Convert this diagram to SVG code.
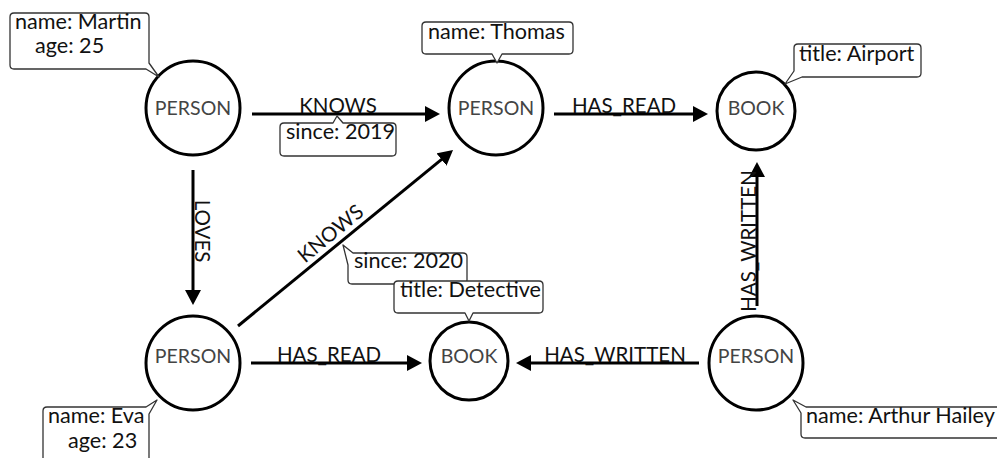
<svg xmlns="http://www.w3.org/2000/svg" width="997" height="458" viewBox="0 0 997 458">
<style>
.node circle{fill:#fff;stroke:#000;stroke-width:3}
.nl{font-family:Lato,"Liberation Sans",sans-serif;font-size:19.5px;fill:#444;text-anchor:middle;dominant-baseline:central}
.box{fill:#fff;stroke:#333;stroke-width:1.3;stroke-linejoin:round}
.pt{font-family:Lato,"Liberation Sans",sans-serif;font-size:21.6px;fill:#111}
.edge{stroke:#000;stroke-width:3;fill:none;marker-end:url(#arr)}
.el{font-family:Lato,"Liberation Sans",sans-serif;font-size:20.5px;fill:#111;text-anchor:middle}
</style>
<defs>
<marker id="arr" markerUnits="userSpaceOnUse" markerWidth="16" markerHeight="16" refX="5" refY="8" orient="auto">
<path d="M0,0 L15,8 L0,16 Z" fill="#000"/>
</marker>
</defs>
<rect width="997" height="458" fill="#fff"/>
<g id="connectors">
<g id="e-martin-thomas"><line class="edge" x1="252" y1="114" x2="430" y2="114"/><text class="el" x="338" y="112.5">KNOWS</text></g>
<g id="e-thomas-airport"><line class="edge" x1="554" y1="114" x2="698" y2="114"/><text class="el" x="624" y="112.5">HAS_READ</text></g>
<g id="e-martin-eva"><line class="edge" x1="193" y1="170" x2="193" y2="295"/><text class="el" transform="translate(195,231) rotate(90)">LOVES</text></g>
<g id="e-eva-thomas"><line class="edge" x1="238" y1="326" x2="445.3" y2="156.3"/><text class="el" transform="translate(335,239) rotate(-39.5)">KNOWS</text></g>
<g id="e-eva-detective"><line class="edge" x1="251" y1="363" x2="412" y2="363"/><text class="el" x="329" y="361.5">HAS_READ</text></g>
<g id="e-arthur-detective"><line class="edge" x1="699" y1="363" x2="526" y2="363"/><text class="el" x="615" y="361.5">HAS_WRITTEN</text></g>
<g id="e-arthur-airport"><line class="edge" x1="757" y1="306" x2="757" y2="172"/><text class="el" transform="translate(756,241) rotate(-90)">HAS_WRITTEN</text></g>
<g id="p-since2019"><path class="box" d="M284,123 H333 L337,116 L343,123 H392 Q396,123 396,127 V152 Q396,156 392,156 H284 Q280,156 280,152 V127 Q280,123 284,123 Z"/><text class="pt" x="286" y="139">since: 2019</text></g>
<g id="p-since2020"><path class="box" d="M353,253 H463 Q467,253 467,257 V280 Q467,284 463,284 H352 Q348,284 348,280 V265 L343,245 Z"/><text class="pt" x="354" y="268">since: 2020</text></g>
</g>
<g id="n-martin" class="node"><circle cx="193" cy="108" r="47"/><text class="nl" x="193" y="107">PERSON</text>
<path class="box" d="M14,13 H145 Q149,13 149,17 V63 L159,77 L146,69 H14 Q10,69 10,65 V17 Q10,13 14,13 Z"/><text class="pt" x="15" y="28.5">name: Martin</text><text class="pt" x="35" y="52.5">age: 25</text></g>
<g id="n-thomas" class="node"><circle cx="496" cy="108" r="47"/><text class="nl" x="496" y="107">PERSON</text>
<path class="box" d="M426,22 H569 Q573,22 573,26 V50 Q573,54 569,54 H502 L497,63 L492,54 H426 Q422,54 422,50 V26 Q422,22 426,22 Z"/><text class="pt" x="428" y="39">name: Thomas</text></g>
<g id="n-airport" class="node"><circle cx="756" cy="111" r="39"/><text class="nl" x="756" y="107">BOOK</text>
<path class="box" d="M798,44 H917 Q921,44 921,48 V73 Q921,77 917,77 H802 L785,84 L794,71 V48 Q794,44 798,44 Z"/><text class="pt" x="799" y="61">title: Airport</text></g>
<g id="n-eva" class="node"><circle cx="193" cy="363" r="47"/><text class="nl" x="193" y="355">PERSON</text>
<path class="box" d="M47,407 H146 L157,400 L149,414 V470 H43 V411 Q43,407 47,407 Z"/><text class="pt" x="48" y="422.5">name: Eva</text><text class="pt" x="68" y="447.5">age: 23</text></g>
<g id="n-detective" class="node"><circle cx="469" cy="361" r="39"/><text class="nl" x="469" y="355">BOOK</text>
<path class="box" d="M398,281 H539 Q543,281 543,285 V309 Q543,313 539,313 H473 L469,321 L465,313 H398 Q394,313 394,309 V285 Q394,281 398,281 Z"/><text class="pt" x="400" y="297">title: Detective</text></g>
<g id="n-arthur" class="node"><circle cx="756" cy="363" r="47"/><text class="nl" x="756" y="355">PERSON</text>
<path class="box" d="M806,407 H1005 V438 H805 Q801,438 801,434 V413 L793,400 Z"/><text class="pt" x="806" y="423">name: Arthur Hailey</text></g>
</svg>
